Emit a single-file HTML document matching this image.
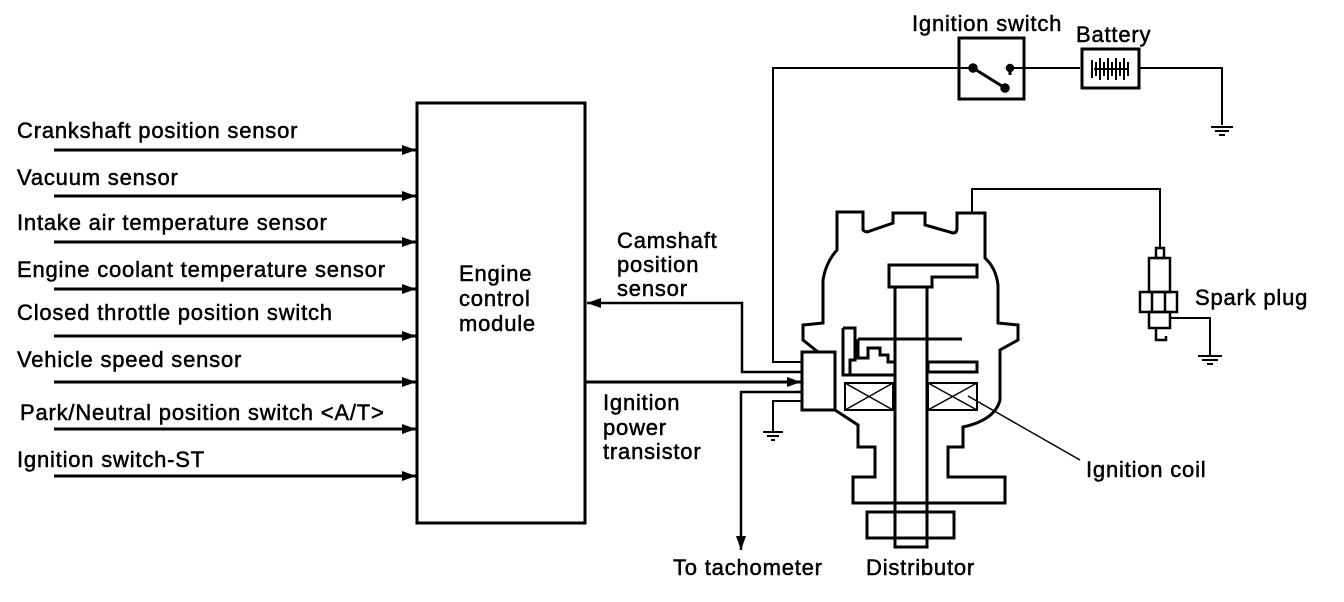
<!DOCTYPE html>
<html><head><meta charset="utf-8"><style>
html,body{margin:0;padding:0;background:#fff;}
svg{display:block;}
text{font-family:"Liberation Sans",Arial,sans-serif;font-size:22px;letter-spacing:0.8px;fill:#000;stroke:#000;stroke-width:0.5px;}
</style></head><body>
<svg width="1344" height="602" viewBox="0 0 1344 602" xmlns="http://www.w3.org/2000/svg">
<defs>
<marker id="ar" markerWidth="14" markerHeight="10" refX="14" refY="5" orient="auto" markerUnits="userSpaceOnUse">
<path d="M0,0 L14,5 L0,10 Z" fill="#000"/></marker>
</defs>
<g stroke="#000" stroke-width="2.5" fill="none">
<rect x="417" y="103" width="168" height="420" stroke-width="3"/>
<g stroke-width="3" marker-end="url(#ar)">
<line x1="54" y1="150" x2="416" y2="150"/>
<line x1="54" y1="196" x2="416" y2="196"/>
<line x1="54" y1="242" x2="416" y2="242"/>
<line x1="54" y1="289" x2="416" y2="289"/>
<line x1="54" y1="336" x2="416" y2="336"/>
<line x1="54" y1="382" x2="416" y2="382"/>
<line x1="54" y1="429" x2="416" y2="429"/>
<line x1="54" y1="476" x2="416" y2="476"/>
</g>
<polyline points="801,372 742,372 742,303 587,303" stroke-width="2.5" marker-end="url(#ar)"/>
<line x1="586" y1="382" x2="801" y2="382" stroke-width="3" marker-end="url(#ar)"/>
<polyline points="801,392 741,392 741,550" stroke-width="2.5" marker-end="url(#ar)"/>
<polyline points="801,401 773,401 773,432" stroke-width="2"/>
<line x1="763" y1="432" x2="783" y2="432" stroke-width="2"/>
<line x1="767" y1="436" x2="779" y2="436" stroke-width="2"/>
<line x1="771" y1="440" x2="775" y2="440" stroke-width="2"/>
<polyline points="802,362 773,362 773,68 973,68" stroke-width="2"/>
<rect x="959" y="38" width="65" height="61" stroke-width="3"/>
<circle cx="973" cy="68" r="3.5" fill="#000"/>
<line x1="973" y1="68" x2="1005" y2="88" stroke-width="3"/>
<circle cx="1005" cy="88" r="3.5" fill="#000"/>
<circle cx="1010" cy="68" r="3" fill="#000"/>
<line x1="1010" y1="68" x2="1010" y2="75" stroke-width="3"/>
<line x1="1010" y1="68" x2="1080" y2="68" stroke-width="2"/>
<rect x="1082" y="49" width="57" height="39" stroke-width="3"/>
<g stroke-width="2">
<line x1="1092" y1="60" x2="1092" y2="78"/><line x1="1096" y1="62" x2="1096" y2="76"/>
<line x1="1100" y1="58" x2="1100" y2="80"/><line x1="1104" y1="62" x2="1104" y2="76"/>
<line x1="1108" y1="58" x2="1108" y2="80"/><line x1="1112" y1="62" x2="1112" y2="76"/>
<line x1="1116" y1="58" x2="1116" y2="80"/><line x1="1120" y1="62" x2="1120" y2="76"/>
<line x1="1124" y1="58" x2="1124" y2="80"/><line x1="1128" y1="62" x2="1128" y2="76"/>
<line x1="1094" y1="69" x2="1128" y2="69"/>
</g>
<polyline points="1139,68 1222,68 1222,125" stroke-width="2"/>
<line x1="1211" y1="127" x2="1233" y2="127" stroke-width="2"/>
<line x1="1215" y1="131" x2="1229" y2="131" stroke-width="2"/>
<line x1="1219" y1="135" x2="1225" y2="135" stroke-width="2"/>
<polyline points="972,213 972,189 1160,189 1160,248" stroke-width="2"/>
<rect x="1156" y="248" width="8" height="10"/>
<rect x="1149" y="258" width="21" height="34"/>
<rect x="1140" y="292" width="37" height="20"/>
<line x1="1152" y1="292" x2="1152" y2="312"/><line x1="1165" y1="292" x2="1165" y2="312"/>
<rect x="1149" y="312" width="21" height="16"/>
<polyline points="1156,328 1156,340 1166,340 1166,336"/>
<polyline points="1171,318 1210,318 1210,355" stroke-width="2"/>
<line x1="1198" y1="356" x2="1222" y2="356" stroke-width="2"/>
<line x1="1202" y1="360" x2="1218" y2="360" stroke-width="2"/>
<line x1="1207" y1="364" x2="1213" y2="364" stroke-width="2"/>
<g stroke-width="3">
<path d="M818,352 L803,340 L803,325 L823,323 L823,280 Q826,262 837,250 L837,212 L863,212 L863,230 Q866,233 870,231 L893,223 L893,213 L925,213 L925,225 L953,233 Q957,233 957,228 L957,213 L985,213 L985,258 Q996,268 998,285 L998,323 L1018,325 L1018,340 L1000,350 L1000,400 Q995,420 963,427 L963,447 L948,447 L948,477 L1005,477 L1005,503 L893,503"/>
<path d="M835,410 L858,425 L858,447 L875,447 L875,477 L853,477 L853,503 L895,503"/>
<rect x="802" y="352" width="33" height="58"/>
<rect x="895" y="287" width="32" height="260"/>
<rect x="867" y="512" width="87" height="26"/>
<path d="M889,265 L977,265 L977,277 L932,277 L932,287 L889,287 Z"/>
<path d="M843,328 L855,328 L855,360 L850,360 L850,375 L895,375 L895,362 M843,328 L843,375 L850,375"/>
<path d="M858,339 L962,339 M858,339 L858,358 L868,358 L868,348 L880,348 L880,355 L888,355 L888,362 L895,362"/>
<rect x="928" y="362" width="49" height="10"/>
</g>
<rect x="845" y="383" width="48" height="27" stroke-width="2"/>
<line x1="845" y1="383" x2="893" y2="410" stroke-width="1.5"/><line x1="845" y1="410" x2="893" y2="383" stroke-width="1.5"/>
<rect x="928" y="383" width="49" height="27" stroke-width="2"/>
<line x1="928" y1="383" x2="977" y2="410" stroke-width="1.5"/><line x1="928" y1="410" x2="977" y2="383" stroke-width="1.5"/>
<line x1="968" y1="396" x2="1080" y2="460" stroke-width="1.5"/>
</g>
<text x="17" y="138">Crankshaft position sensor</text>
<text x="17" y="185">Vacuum sensor</text>
<text x="17" y="230">Intake air temperature sensor</text>
<text x="17" y="277">Engine coolant temperature sensor</text>
<text x="17" y="320">Closed throttle position switch</text>
<text x="17" y="367">Vehicle speed sensor</text>
<text x="20" y="420">Park/Neutral position switch &lt;A/T&gt;</text>
<text x="17" y="467">Ignition switch-ST</text>
<text x="459" y="281">Engine</text>
<text x="459" y="306">control</text>
<text x="459" y="331">module</text>
<text x="617" y="248">Camshaft</text>
<text x="617" y="272">position</text>
<text x="617" y="296">sensor</text>
<text x="603" y="410">Ignition</text>
<text x="603" y="435">power</text>
<text x="603" y="459">transistor</text>
<text x="673" y="575">To tachometer</text>
<text x="866" y="575">Distributor</text>
<text x="1086" y="477">Ignition coil</text>
<text x="1195" y="305">Spark plug</text>
<text x="912" y="31">Ignition switch</text>
<text x="1076" y="42">Battery</text>
</svg>
</body></html>
